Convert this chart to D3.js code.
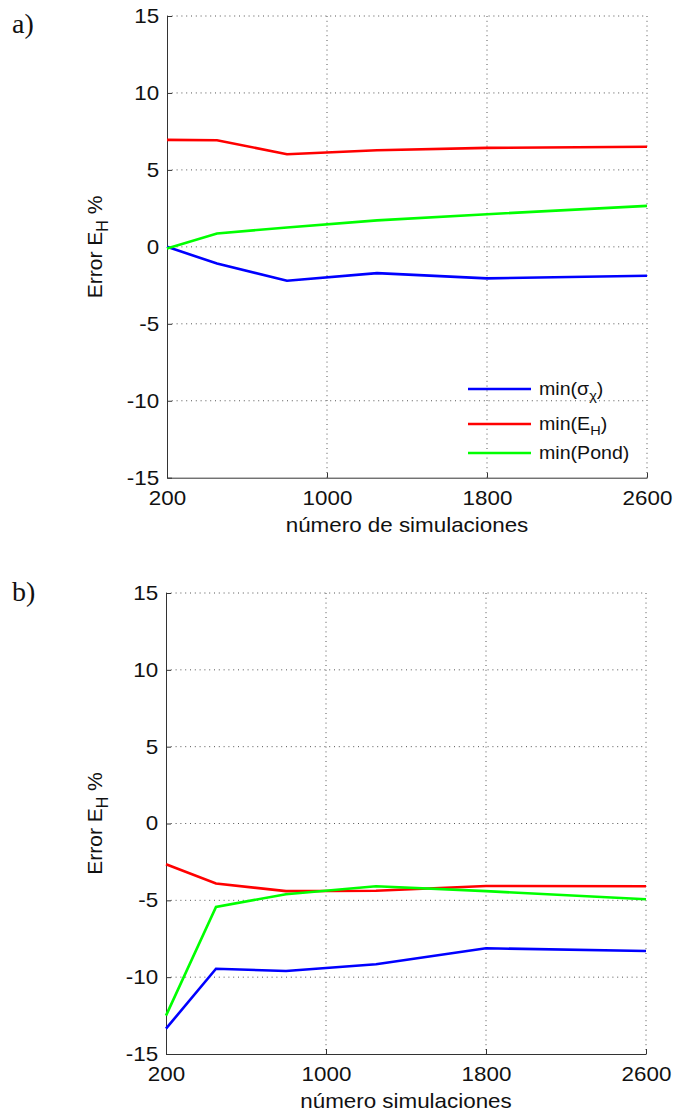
<!DOCTYPE html>
<html>
<head>
<meta charset="utf-8">
<script src="https://cdn.jsdelivr.net/npm/d3@7"></script>
<style>
  body { margin: 0; background: #fff; }
  svg { display: block; }
  .axis path, .axis line { stroke: #333; }
  .axis text { font-family: "Liberation Sans", Arial, sans-serif; font-size: 20px; fill: #111; }
</style>
</head>
<body>
<svg width="681" height="1111"></svg>
<script>
// numero de simulaciones (eje x)
const simulaciones = [200, 450, 800, 1250, 1800, 2600];

// panel a)
const aSigma = [0, -1.08, -2.2, -1.71, -2.05, -1.88];
const aEH = [6.95, 6.93, 6.02, 6.28, 6.43, 6.5];
const aPond = [-0.1, 0.87, 1.26, 1.72, 2.12, 2.66];

// panel b)
const bSigma = [-13.35, -9.45, -9.6, -9.16, -8.12, -8.3];
const bEH = [-2.65, -3.9, -4.4, -4.38, -4.07, -4.08];
const bPond = [-12.5, -5.43, -4.6, -4.08, -4.4, -4.93];

const xTicks = [200, 1000, 1800, 2600];
const yTicks = [15, 10, 5, 0, -5, -10, -15];

const colors = { sigma: "#0000ff", eh: "#ff0000", pond: "#00ff00" };
const SX = 1.12; // the picture is a little wider than tall, stretch horizontal text

const svg = d3.select("svg");
svg.append("rect").attr("width", 681).attr("height", 1111).attr("fill", "#fff");

//draw one panel: axes, grid, lines, labels
const drawPanel = (p) => {
  const x = d3.scaleLinear().domain([200, 2600]).range([p.left, p.right]);
  const y = d3.scaleLinear().domain([-15, 15]).range([p.bottom, p.top]);

  const g = svg.append("g");

  // dotted grid (top and right borders are grid lines too)
  g.append("g")
    .selectAll("line")
    .data(yTicks.filter(d => d > -15))
    .join("line")
    .attr("x1", p.left).attr("x2", p.right)
    .attr("y1", d => y(d)).attr("y2", d => y(d))
    .attr("stroke", "#555").attr("stroke-dasharray", "1,3.8");

  g.append("g")
    .selectAll("line")
    .data(xTicks.filter(d => d > 200))
    .join("line")
    .attr("x1", d => x(d)).attr("x2", d => x(d))
    .attr("y1", p.top).attr("y2", p.bottom)
    .attr("stroke", "#555").attr("stroke-dasharray", "1,3.8");

  // axes with inward ticks
  g.append("g")
    .attr("class", "axis")
    .attr("transform", `translate(0,${p.bottom})`)
    .call(d3.axisBottom(x).tickValues(xTicks).tickSizeInner(-5).tickSizeOuter(0).tickPadding(13)
      .tickFormat(d => String(d)))
    .selectAll("text").attr("transform", `scale(${SX},1)`);

  g.append("g")
    .attr("class", "axis")
    .attr("transform", `translate(${p.left},0)`)
    .call(d3.axisLeft(y).tickValues(yTicks).tickSizeInner(-5).tickSizeOuter(0).tickPadding(7)
      .tickFormat(d => String(d)))
    .selectAll("text").attr("transform", `scale(${SX},1)`);

  // series
  const line = d3.line().x((d, i) => x(simulaciones[i])).y(d => y(d));
  p.series.forEach(s => {
    g.append("path")
      .datum(s.values)
      .attr("d", line)
      .attr("fill", "none")
      .attr("stroke", s.color)
      .attr("stroke-width", 2.6);
  });

  // x label
  g.append("text")
    .attr("transform", `translate(${(p.left + p.right) / 2},${p.bottom + 54}) scale(${SX},1)`)
    .attr("text-anchor", "middle")
    .attr("font-family", "Liberation Sans, Arial, sans-serif")
    .attr("font-size", 20)
    .attr("fill", "#111")
    .text(p.xlabel);

  // y label: Error E_H %
  const yl = g.append("text")
    .attr("transform", `translate(102,${(p.top + p.bottom) / 2}) rotate(-90)`)
    .attr("text-anchor", "middle")
    .attr("font-family", "Liberation Sans, Arial, sans-serif")
    .attr("font-size", 21)
    .attr("fill", "#111");
  yl.append("tspan").text("Error E");
  yl.append("tspan").attr("font-size", 16).attr("dy", 6).text("H");
  yl.append("tspan").attr("dy", -6).text(" %");

  // panel letter
  svg.append("text")
    .attr("x", 12).attr("y", p.letterY)
    .attr("font-family", "Liberation Serif, Times New Roman, serif")
    .attr("font-size", 28)
    .attr("fill", "#111")
    .text(p.letter);

  // legend
  if (p.legend) {
    p.series.forEach((s, i) => {
      const ly = p.legend.rows[i];
      g.append("line")
        .attr("x1", p.legend.x1).attr("x2", p.legend.x2)
        .attr("y1", ly).attr("y2", ly)
        .attr("stroke", s.color).attr("stroke-width", 2.6);
      const t = g.append("text")
        .attr("transform", `translate(${p.legend.x2 + 8},${ly + 6}) scale(${SX},1)`)
        .attr("font-family", "Liberation Sans, Arial, sans-serif")
        .attr("font-size", 17.5)
        .attr("fill", "#111");
      t.append("tspan").text(s.name[0]);
      if (s.name[1]) {
        t.append("tspan").attr("font-size", 13).attr("dy", 5).text(s.name[1]);
        t.append("tspan").attr("dy", -5).text(")");
      }
    });
  }
};

drawPanel({
  left: 167, right: 647, top: 16, bottom: 477.7,
  letter: "a)", letterY: 33,
  xlabel: "número de simulaciones",
  series: [
    { values: aSigma, color: colors.sigma, name: ["min(\u03c3", "\u03c7"] },
    { values: aEH, color: colors.eh, name: ["min(E", "H"] },
    { values: aPond, color: colors.pond, name: ["min(Pond)"] }
  ],
  legend: { x1: 468, x2: 531, rows: [389, 424, 453] }
});

drawPanel({
  left: 166, right: 646, top: 593, bottom: 1054,
  letter: "b)", letterY: 601,
  xlabel: "número simulaciones",
  series: [
    { values: bSigma, color: colors.sigma },
    { values: bEH, color: colors.eh },
    { values: bPond, color: colors.pond }
  ]
});
</script>
</body>
</html>
